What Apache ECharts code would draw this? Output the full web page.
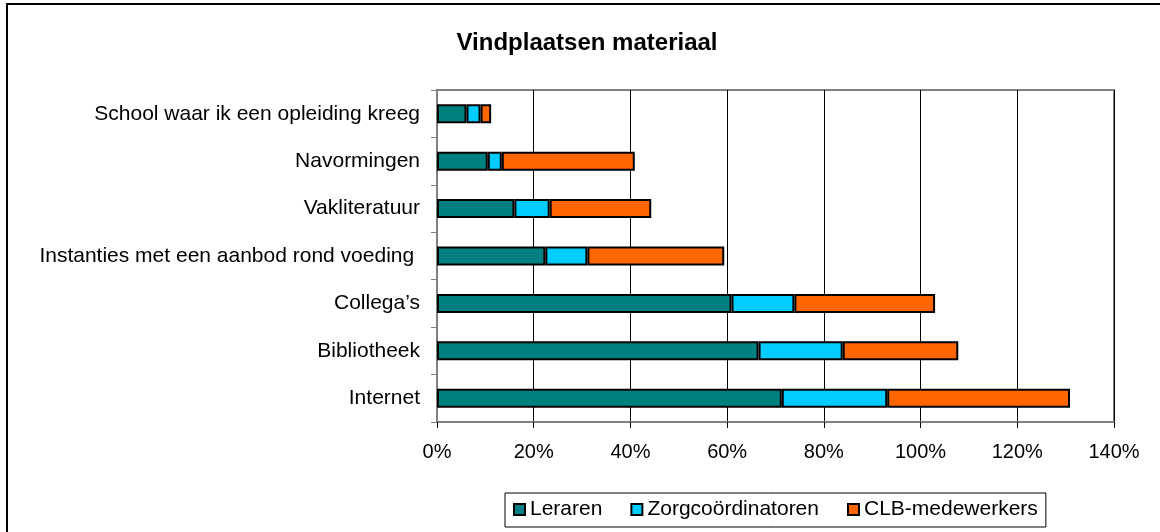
<!DOCTYPE html>
<html>
<head>
<meta charset="utf-8">
<title>Vindplaatsen materiaal</title>
<script src="https://cdn.jsdelivr.net/npm/echarts@6/dist/echarts.min.js"></script>
<style>
  html, body { margin: 0; padding: 0; background: #fff; }
  #chart { width: 1160px; height: 532px; }
</style>
</head>
<body>
<div id="chart"></div>
<script>
// categorieën, van boven naar onder
const categories = [
  'School waar ik een opleiding kreeg',
  'Navormingen',
  'Vakliteratuur',
  'Instanties met een aanbod rond voeding ',
  'Collega\u2019s',
  'Bibliotheek',
  'Internet'
];

// percentages per groep
const leraren = [6.1, 10.5, 16.0, 22.4, 60.9, 66.5, 71.3];
const zorgcoordinatoren = [2.9, 2.9, 7.3, 8.7, 13.0, 17.4, 21.8];
const clbMedewerkers = [2.2, 27.5, 21.0, 28.3, 29.1, 23.9, 37.8];

const seriesNames = ['Leraren', 'Zorgcoördinatoren', 'CLB-medewerkers'];
const seriesData = [leraren, zorgcoordinatoren, clbMedewerkers];
const seriesColors = ['#008080', '#00ccff', '#ff6600'];

const xTicks = { min: 0, max: 140, interval: 20 };

const font = 'Liberation Sans, Arial, sans-serif';

const chart = echarts.init(document.getElementById('chart'), null, { renderer: 'canvas' });

const option = {
  backgroundColor: '#fff',
  animation: false,
  title: {
    text: 'Vindplaatsen materiaal',
    left: 582,
    top: 26,
    textAlign: 'center',
    textStyle: { fontFamily: font, fontSize: 24, fontWeight: 'bold', color: '#000' }
  },
  legend: {
    left: 505,
    top: 493,
    padding: [6, 8, 7, 8],
    itemGap: 28,
    itemWidth: 11,
    itemHeight: 11,
    icon: 'rect',
    borderColor: '#000',
    borderWidth: 1,
    borderRadius: 0,
    textStyle: { fontFamily: font, fontSize: 21, color: '#000' },
    data: seriesNames.map((n) => ({
      name: n,
      itemStyle: { borderColor: '#000', borderWidth: 2 }
    }))
  },
  grid: {
    left: 437,
    top: 90,
    width: 677,
    height: 332,
    show: true,
    borderColor: '#808080',
    borderWidth: 2,
    backgroundColor: '#fff'
  },
  xAxis: {
    type: 'value',
    min: xTicks.min,
    max: xTicks.max,
    interval: xTicks.interval,
    axisLine: { show: true, lineStyle: { color: '#808080', width: 2 } },
    axisTick: { show: true, length: 6, lineStyle: { color: '#000' } },
    splitLine: { show: true, lineStyle: { color: '#000', width: 1 } },
    axisLabel: {
      formatter: '{value}%',
      margin: 20,
      fontFamily: font,
      fontSize: 20,
      color: '#000'
    }
  },
  yAxis: {
    type: 'category',
    inverse: true,
    data: categories,
    axisLine: { show: true, lineStyle: { color: '#808080', width: 2 } },
    axisTick: { show: true, length: 6, lineStyle: { color: '#808080' } },
    splitLine: { show: false },
    axisLabel: {
      margin: 17,
      fontFamily: font,
      fontSize: 21,
      color: '#000'
    }
  },
  graphic: [
    {
      // buitenkader
      type: 'rect',
      shape: { x: 7, y: 4, width: 1200, height: 600 },
      style: { fill: 'none', stroke: '#000', lineWidth: 2 },
      silent: true,
      z: 100
    }
  ],
  series: seriesNames.map((name, i) => ({
    name: name,
    type: 'bar',
    stack: 'totaal',
    barWidth: 19,
    data: seriesData[i],
    itemStyle: {
      color: seriesColors[i],
      borderColor: '#000',
      borderWidth: 2
    }
  }))
};

chart.setOption(option);
</script>
</body>
</html>
